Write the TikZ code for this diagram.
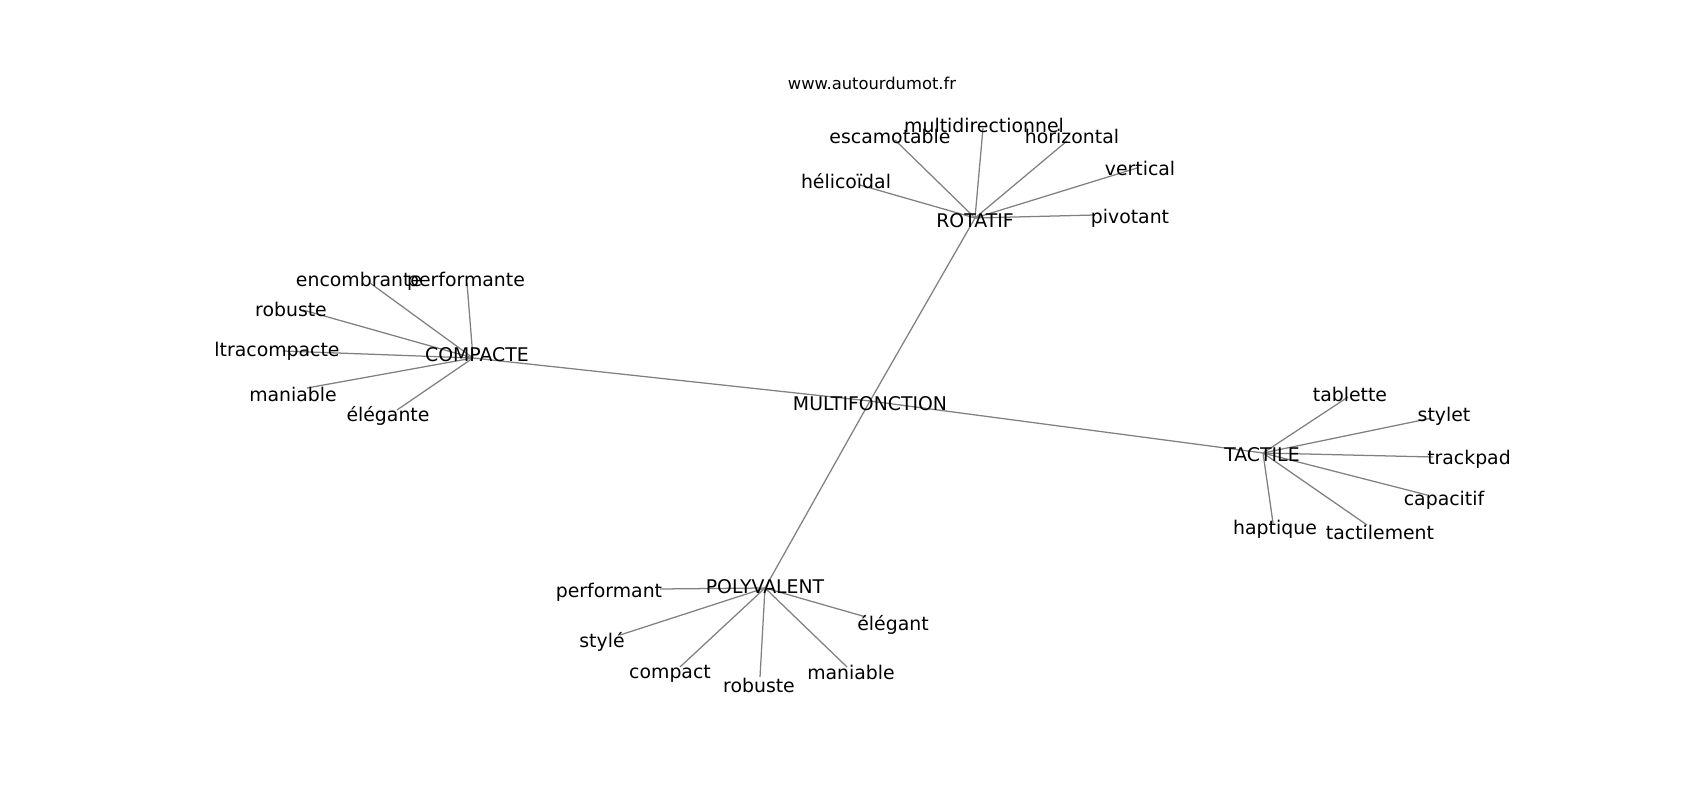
\documentclass[tikz,border=0pt]{standalone}
\usepackage{fontspec}
\setmainfont{DejaVu Sans}
\usepackage{tikz}

\begin{document}
\begin{tikzpicture}[x=0.6363pt, y=-0.6363pt]
	\tikzstyle{word} = [inner sep=0pt, yshift=-1.3pt, font=\fontsize{12}{14}\selectfont]
	\tikzstyle{site} = [inner sep=0pt, font=\fontsize{10.4}{12}\selectfont]
	\tikzstyle{line} = [draw, gray, line width=0.8pt]
	\useasboundingbox (0,0) rectangle (1700,800);
	% Place points
	\coordinate (mf) at (870,401);
	\coordinate (rot) at (975,218);
	\coordinate (cmp) at (473,358);
	\coordinate (tac) at (1263,453);
	\coordinate (poly) at (765,588);
	\coordinate (multi) at (983,128);
	\coordinate (esc) at (895,140);
	\coordinate (hel) at (860,185);
	\coordinate (hor) at (1067,141);
	\coordinate (vert) at (1137,168);
	\coordinate (piv) at (1095,215);
	\coordinate (perf) at (467,283);
	\coordinate (enc) at (370,283);
	\coordinate (rob) at (303,310);
	\coordinate (ultra) at (283,351);
	\coordinate (man) at (307,388);
	\coordinate (eleg) at (397,410);
	\coordinate (tab) at (1348,397);
	\coordinate (sty) at (1432,418);
	\coordinate (track) at (1433,457);
	\coordinate (cap) at (1427,495);
	\coordinate (hap) at (1273,523);
	\coordinate (tact) at (1367,525);
	\coordinate (pfm) at (660,589);
	\coordinate (styl) at (620,635);
	\coordinate (cpt) at (680,667);
	\coordinate (rbst) at (760,677);
	\coordinate (mnb) at (847,667);
	\coordinate (elg) at (866,617);
	% Draw edges
	\path [line] (mf) -- (rot);
	\path [line] (mf) -- (cmp);
	\path [line] (mf) -- (tac);
	\path [line] (mf) -- (poly);
	\path [line] (rot) -- (multi);
	\path [line] (rot) -- (esc);
	\path [line] (rot) -- (hel);
	\path [line] (rot) -- (hor);
	\path [line] (rot) -- (vert);
	\path [line] (rot) -- (piv);
	\path [line] (cmp) -- (perf);
	\path [line] (cmp) -- (enc);
	\path [line] (cmp) -- (rob);
	\path [line] (cmp) -- (ultra);
	\path [line] (cmp) -- (man);
	\path [line] (cmp) -- (eleg);
	\path [line] (tac) -- (tab);
	\path [line] (tac) -- (sty);
	\path [line] (tac) -- (track);
	\path [line] (tac) -- (cap);
	\path [line] (tac) -- (hap);
	\path [line] (tac) -- (tact);
	\path [line] (poly) -- (pfm);
	\path [line] (poly) -- (styl);
	\path [line] (poly) -- (cpt);
	\path [line] (poly) -- (rbst);
	\path [line] (poly) -- (mnb);
	\path [line] (poly) -- (elg);
	% Place nodes
	\node [site] (www) at (872,83) {www.autourdumot.fr};
	\node [word] (mfl) at (870,402) {MULTIFONCTION};
	\node [word] (rotl) at (975,219) {ROTATIF};
	\node [word] (cmpl) at (477,353) {COMPACTE};
	\node [word] (tacl) at (1262,453) {TACTILE};
	\node [word] (polyl) at (765,585) {POLYVALENT};
	\node [word] (multil) at (984,123) {multidirectionnel};
	\node [word] (escl) at (890,134) {escamotable};
	\node [word] (hell) at (846,179) {hélicoïdal};
	\node [word] (horl) at (1072,134) {horizontal};
	\node [word] (vertl) at (1140,166) {vertical};
	\node [word] (pivl) at (1130,216) {pivotant};
	\node [word] (perfl) at (466,279) {performante};
	\node [word] (encl) at (359,277) {encombrante};
	\node [word] (robl) at (291,307) {robuste};
	\node [word] (ultral) at (277,349) {ltracompacte};
	\node [word] (manl) at (293,392) {maniable};
	\node [word] (elegl) at (388,414) {élégante};
	\node [word] (tabl) at (1350,392) {tablette};
	\node [word] (styl-l) at (1444,414) {stylet};
	\node [word] (trackl) at (1469,457) {trackpad};
	\node [word] (capl) at (1444,498) {capacitif};
	\node [word] (hapl) at (1275,527) {haptique};
	\node [word] (tactl) at (1380,530) {tactilement};
	\node [word] (pfml) at (609,590) {performant};
	\node [word] (stylel) at (602,640) {stylé};
	\node [word] (cptl) at (670,672) {compact};
	\node [word] (rbstl) at (759,683) {robuste};
	\node [word] (mnbl) at (851,670) {maniable};
	\node [word] (elgl) at (893,623) {élégant};
\end{tikzpicture}
\end{document}
